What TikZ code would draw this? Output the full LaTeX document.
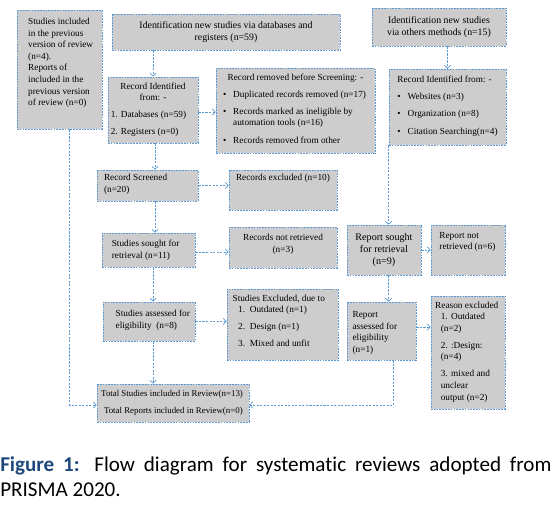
\documentclass[tikz,border=0pt]{standalone}
\usepackage{fontspec}
\setmainfont{Liberation Serif}
\newfontfamily\capfont{Carlito}[Ligatures=NoCommon]
\usetikzlibrary{arrows.meta}
\definecolor{boxgray}{RGB}{205,205,205}
\definecolor{lineblue}{RGB}{91,155,213}
\definecolor{figblue}{RGB}{31,73,125}
% text block of a box: [inner pos]{width}{height}{text}
\newcommand{\boxtext}[4][t]{\parbox[c][\dimexpr #3-4pt\relax][#1]{\dimexpr #2-4pt\relax}{\raggedright #4}}
\newcommand{\itm}[1]{\par\hangindent=1.1em\hangafter=1\noindent\makebox[1.1em][l]{#1}}
\tikzset{
  box/.style={draw=lineblue, dash pattern=on 1.2pt off 0.8pt, line width=0.6pt, fill=boxgray,
              inner xsep=2pt, inner ysep=2pt, font=\fontsize{6.6}{8.2}\selectfont},
  flow/.style={draw=lineblue, dash pattern=on 1.5pt off 1pt, line width=0.5pt,
               -{Straight Barb[length=2pt,width=4.5pt]}}
}
\begin{document}
\begin{tikzpicture}[x=0.025cm, y=-0.025cm]
    \useasboundingbox (0,0) rectangle (556,507);
    %%% identification
    \node[box] (prev) at (59.5,69.5) {\boxtext{2.125cm}{2.975cm}{\vspace*{4pt}\leftskip=6pt Studies included\\in the previous\\version of review\\(n=4).\\Reports of\\included in the\\previous version\\of review (n=0)}};
    \node[box, font=\fontsize{7}{8.6}\selectfont] (idnew) at (226,32) {\boxtext[c]{5.7cm}{0.9cm}{\centering Identification new studies via databases and\\registers (n=59)}};
    \node[box, font=\fontsize{7}{8.6}\selectfont] (idother) at (439,27) {\boxtext[c]{3.35cm}{0.95cm}{\centering Identification new studies\\via others methods (n=15)}};
    %
    \node[box] (recid) at (153,110) {\boxtext{2.25cm}{1.65cm}{\vspace*{2pt}{\centering Record Identified\\from: -\par}\vspace{4pt}1. Databases (n=59)\par\vspace{4pt}2. Registers (n=0)}};
    \node[box] (removed) at (295.5,110.5) {\boxtext{3.975cm}{2.125cm}{\vspace*{2pt}{\centering Record removed before Screening: -\par}\vspace{4pt}\leftskip=3pt\itm{\textbullet}Duplicated records removed (n=17)\par\vspace{4pt}\itm{\textbullet}Records marked as ineligible by automation tools (n=16)\par\vspace{4pt}\itm{\textbullet}Records removed from other}};
    \node[box] (recother) at (447.5,107) {\boxtext{2.925cm}{1.9cm}{\vspace*{3pt}\leftskip=4pt Record Identified from: -\par\vspace{4pt}\itm{\textbullet}Websites (n=3)\par\vspace{4pt}\itm{\textbullet}Organization (n=8)\par\vspace{4pt}\itm{\textbullet}Citation Searching(n=4)}};
    %%% screening
    \node[box] (screened) at (147.5,185.5) {\boxtext{2.525cm}{0.775cm}{\vspace*{1pt}\leftskip=3pt Record Screened\\(n=20)}};
    \node[box] (excluded) at (283,190) {\boxtext{2.7cm}{1cm}{\vspace*{1pt}\leftskip=3pt Records excluded (n=10)}};
    %
    \node[box] (sought) at (148.5,250) {\boxtext[c]{2.325cm}{0.85cm}{\leftskip=5pt Studies sought for\\retrieval (n=11)}};
    \node[box] (notretr) at (283,247.5) {\boxtext{2.7cm}{1.025cm}{\vspace*{3pt}\centering Records not retrieved\\(n=3)}};
    \node[box, font=\fontsize{7.2}{8.8}\selectfont] (rsought) at (384,250) {\boxtext[c]{1.85cm}{1.25cm}{\centering Report sought\\for retrieval\\(n=9)}};
    \node[box] (rnot) at (468,250) {\boxtext{1.85cm}{1.25cm}{\vspace*{3pt}\leftskip=4pt Report not\\retrieved (n=6)}};
    %
    \node[box] (assessed) at (149,321.5) {\boxtext{2.3cm}{0.975cm}{\vspace*{4pt}\leftskip=7pt Studies assessed for\\eligibility\ \ (n=8)}};
    \node[box] (studexcl) at (282.5,324.5) {\boxtext{2.775cm}{1.775cm}{\vspace*{2pt}\leftskip=2pt Studies Excluded, due to\par\leftskip=6pt 1.\ \ Outdated (n=1)\par\vspace{4pt}2.\ \ Design (n=1)\par\vspace{4pt}3.\ \ Mixed and unfit}};
    \node[box] (rassess) at (381.5,331) {\boxtext{1.725cm}{1.45cm}{\vspace*{5pt}\leftskip=2pt Report\\assessed for\\eligibility\\(n=1)}};
    \node[box] (reason) at (468,352.5) {\boxtext{1.85cm}{2.825cm}{\vspace*{2pt}\leftskip=1pt Reason excluded\par\leftskip=5pt
      \itm{1.}Outdated\\(n=2)\par\vspace{4pt}\itm{2.}:Design:\\(n=4)\par\vspace{4pt}\itm{3.}mixed and\\unclear\\output (n=2)}};
    %%% included
    \node[box, font=\fontsize{6.3}{8}\selectfont] (total) at (173,403) {\boxtext[c]{3.8cm}{0.95cm}{\mbox{\hspace*{1pt}Total Studies included in Review(n=13)}\par\vspace{4pt}\mbox{\hspace*{3pt}Total Reports included in Review(n=0)}}};
    %
    %%% connectors
    \draw[flow] (idnew.south -| recid.north) -- (recid.north);
    \draw[flow] ([xshift=0.05cm]recid.south) -- ([xshift=0.05cm]recid.south |- screened.north);
    \draw[flow] ([yshift=-0.05cm]recid.east) -- ([yshift=-0.05cm]recid.east -| removed.west);
    \draw[flow] (screened.east) -- (screened.east -| excluded.west);
    \draw[flow] ([xshift=0.05cm]recid.south |- screened.south) -- ([xshift=0.05cm]recid.south |- sought.north);
    \draw[flow] ([yshift=-0.05cm]sought.east) -- ([yshift=-0.05cm]sought.east -| notretr.west);
    \draw[flow] (recid.south |- sought.south) -- (recid.south |- assessed.north);
    \draw[flow] (assessed.east) -- (assessed.east -| studexcl.west);
    \draw[flow] (recid.south |- assessed.south) -- (recid.south |- total.north);
    \draw[flow] ([xshift=0.25cm]prev.south) |- ([yshift=-0.05cm]total.west);
    %
    \draw[flow] (idother.south -| recother.north) -- (recother.north);
    \draw[flow] (recother.south west) -- (recother.south west |- rsought.north);
    \draw[flow] (rsought.east) -- (rsought.east -| rnot.west);
    \draw[flow] (recother.south west |- rsought.south) -- (recother.south west |- rassess.north);
    \draw[flow] ([yshift=0.1cm]rassess.east) -- ([yshift=0.1cm]rassess.east -| reason.west);
    \draw[flow] ([xshift=0.3cm]rassess.south) |- ([yshift=-0.05cm]total.east);
    %
    %%% caption
    \node[anchor=north west, inner sep=0pt, text width=13.775cm, align=justify,
          font=\capfont\fontsize{15}{17.8}\selectfont] (caption) at (0,456)
          {{\bfseries\color{figblue}Figure 1:} Flow diagram for systematic reviews adopted from\linebreak PRISMA 2020.};
\end{tikzpicture}
\end{document}
